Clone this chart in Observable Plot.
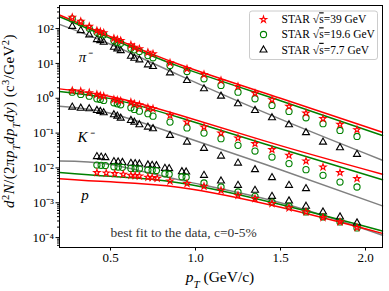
<!DOCTYPE html>
<html><head><meta charset="utf-8">
<script src="https://cdn.jsdelivr.net/npm/d3@7"></script>
<script src="https://cdn.jsdelivr.net/npm/@observablehq/plot@0.6"></script>
<style>body{margin:0;background:#fff} svg{font-family:"Liberation Serif",serif}</style>
</head><body><div id="chart"></div>
<script>
// ---- data ----
const mesonPt = [0.275,0.325,0.375,0.42,0.44,0.46,0.52,0.54,0.56,0.62,0.64,0.67,0.72,0.75,0.85,0.95,1.05,1.15,1.25,1.35,1.45,1.55,1.65,1.75,1.85,1.95];
const piStar39 = [211,162,116,87.8,82,75.4,52.7,48.4,45.3,34.1,29.1,26.2,20.9,18.8,10.4,7.0,4.81,3.24,2.18,1.40,0.906,0.582,0.374,0.259,0.178,0.125];
const piCircle196 = [190,146,102,78.4,70.5,66.0,45.3,40.5,37.9,27.3,24.5,21.9,16.8,14.5,8.71,5.86,3.62,2.33,1.50,0.968,0.622,0.419,0.276,0.186,0.119,0.080];
const piTri77 = [116,87.8,66.0,48.4,45.3,40.5,29.1,26.2,23.4,16.1,14.1,12.7,9.12,8.15,5.38,3.24,1.87,1.15,0.695,0.447,0.276,0.174,0.103,0.0552,0.0382,0.0245];
const kStar39 = [1.67,1.60,1.44,1.29,1.20,1.15,0.924,0.883,0.848,0.773,0.695,0.651,0.535,0.500,0.321,0.207,0.149,0.100,0.0719,0.0497,0.0334,0.0230,0.0158,0.0106,0.00733,0.00493];
const kCircle196 = [1.50,1.29,1.15,0.968,0.924,0.865,0.743,0.695,0.651,0.535,0.478,0.427,0.360,0.307,0.207,0.141,0.100,0.0692,0.0445,0.0305,0.0205,0.0133,0.00893,0.00614,0.00394,0.00284];
const kTri77 = [0.556,0.520,0.500,0.447,0.419,0.384,0.337,0.307,0.269,0.231,0.207,0.174,0.149,0.134,0.0859,0.0552,0.0365,0.0219,0.0138,0.00893,0.00527,0.00317,0.00255];
const protonPt = [0.42,0.445,0.47,0.52,0.545,0.57,0.62,0.645,0.67,0.72,0.745,0.77,0.82,0.845,0.92,0.945,1.05,1.15,1.25,1.35,1.45,1.55,1.65,1.75,1.85,1.95];
const pTri77 = [0.0212,0.0205,0.0198,0.0152,0.0148,0.0144,0.0136,0.0133,0.0130,0.0122,0.0119,0.0116,0.00975,0.00955,0.00780,0.00764,0.00614,0.00422,0.00317,0.00228,0.00153,0.00113,0.000794,0.000545,0.000392,0.000264];
const pCircle196 = [0.0121,0.0119,0.0117,0.0108,0.0106,0.0104,0.0097,0.00955,0.0094,0.0087,0.00853,0.0084,0.0068,0.0066,0.0056,0.0054,0.00369,0.00284,0.00204,0.00153,0.00105,0.000794,0.000545,0.000392,0.000282,0.000190];
const protonStarPt = [0.42,0.475,0.525,0.575,0.62,0.645,0.67,0.72,0.745,0.775,0.85,0.95,1.05,1.15,1.25,1.35,1.45,1.55,1.65,1.75,1.85,1.95];
const pStar39 = [0.00733,0.00714,0.00687,0.00656,0.00614,0.00601,0.00586,0.00538,0.00527,0.00504,0.00422,0.00355,0.00297,0.00228,0.00164,0.00132,0.000948,0.000710,0.000545,0.000377,0.000282,0.000195];
// fit curves
const fitPt = [0.2,0.5,0.91,1.5,2.1];
const piFit39 = [245,58.9,9.12,1.0,0.105];
const piFit196 = [219,52.5,7.94,0.851,0.0851];
const piFit77 = [132,35.5,4.47,0.251,0.0166];
const kFit39 = [1.86,1.12,0.324,0.0437,0.00661];
const kFit196 = [1.57,0.977,0.275,0.0355,0.00457];
const kFit77 = [0.589,0.372,0.0851,0.00891,0.000813];
const pFit39 = [0.00490,0.00398,0.00275,0.000741,0.000132];
const pFit196 = [0.00741,0.00575,0.00372,0.000891,0.000155];
const pFit77 = [0.0158,0.0126,0.00447,0.00100,0.000117];
const xTicks = [0.5,1.0,1.5,2.0];
const yMajor = [1e-4,1e-3,1e-2,1e-1,1,10,100];
const legendLabels = ["39","19.6","7.7"];
const particleLabels = ["π⁻","K⁻","p"];

// ---- build tables ----
const pts = (xs, ys) => ys.map((v,i)=>({pt: xs[i], v}));
const fit = ys => ys.map((v,i)=>({pt: fitPt[i], v}));
const stars = [...pts(mesonPt, piStar39), ...pts(mesonPt, kStar39), ...pts(protonStarPt, pStar39)];
const circles = [...pts(mesonPt, piCircle196), ...pts(mesonPt, kCircle196), ...pts(protonPt, pCircle196)];
const tris = [...pts(mesonPt, piTri77), ...pts(mesonPt, kTri77), ...pts(protonPt, pTri77)];
const yMinor = [];
for (let e=-5;e<=2;e++) for (let m=2;m<=9;m++){const v=m*10**e; if(v>5.2e-5&&v<460) yMinor.push(v);}
const sup = {"-":"⁻","0":"⁰","1":"¹","2":"²","3":"³","4":"⁴"};
const fmtY = d => "10" + String(Math.round(Math.log10(d))).split("").map(c=>sup[c]).join("");

const RED="#ff0000", GREEN="#008000", GREY="#808080";
const R_STAR=2.0, R_CIRC=3.1, R_TRI=2.6;
const lineOpts = (stroke)=>({x:"pt", y:"v", stroke, strokeWidth:1.5, curve:"natural"});

const chart = Plot.plot({
  width: 389, height: 291,
  marginLeft: 59, marginRight: 7, marginTop: 5, marginBottom: 44,
  style: {fontFamily: "Liberation Serif, serif", background: "#fff", color: "#000"},
  x: {domain: [0.2, 2.1]},
  y: {type: "log", domain: [5.2e-5, 460]},
  marks: [
    Plot.axisY(yMinor, {tickSize: 2, tickFormat: () => "", label: null}),
    Plot.axisY(yMajor, {tickSize: 3.5, tickFormat: fmtY, tickPadding: 2, fontSize: 13, label: null}),
    Plot.axisX(xTicks, {tickSize: 3.5, tickFormat: d => d.toFixed(1), tickPadding: 2, fontSize: 13, label: null}),
    Plot.line(fit(piFit77), lineOpts(GREY)),
    Plot.line(fit(kFit77), lineOpts(GREY)),
    Plot.line(fit(pFit77), lineOpts(GREY)),
    Plot.line(fit(piFit196), lineOpts(GREEN)),
    Plot.line(fit(kFit196), lineOpts(GREEN)),
    Plot.line(fit(pFit196), lineOpts(GREEN)),
    Plot.line(fit(piFit39), lineOpts(RED)),
    Plot.line(fit(kFit39), lineOpts(RED)),
    Plot.line(fit(pFit39), lineOpts(RED)),
    Plot.dot(tris, {x:"pt", y:"v", symbol:"triangle", r:R_TRI, stroke:"black", fill:"none", strokeWidth:1.1}),
    Plot.dot(circles, {x:"pt", y:"v", symbol:"circle", r:R_CIRC, stroke:GREEN, fill:"none", strokeWidth:1.1}),
    Plot.dot(stars, {x:"pt", y:"v", symbol:"star", r:R_STAR, stroke:RED, fill:"none", strokeWidth:1.1}),
    Plot.text(particleLabels, {x: [0.35,0.35,0.35], y: [14.8,0.076,0.00164], text: d=>d, fontSize: 15, fontStyle: "italic"}),
    Plot.text(["best fit to the data, c=0-5%"], {x: [0.93], y: [1.35e-4], text: d=>d, fontSize: 13.5, fill: "#333"}),
    Plot.frame({stroke: "black", strokeWidth: 1})
  ]
});
document.getElementById("chart").appendChild(chart);

// ---- axis titles & legend ----
const svg = d3.select(chart);
const yl = svg.append("text").attr("transform","translate(14,121) rotate(-90)")
  .attr("text-anchor","middle").attr("font-size",15).attr("letter-spacing",0.4).attr("fill","#000");
const ypart = (t, o={}) => { const s = yl.append("tspan").text(t);
  if (o.it) s.attr("font-style","italic");
  if (o.sup) s.attr("baseline-shift","super").attr("font-size",10.5);
  if (o.sub) s.attr("baseline-shift","sub").attr("font-size",10.5);
  return s; };
ypart("d",{it:1}); ypart("2",{sup:1}); ypart("N",{it:1}); ypart("/(2π"); ypart("p",{it:1}); ypart("T",{sub:1,it:1});
ypart("dp",{it:1}); ypart("T",{sub:1,it:1}); ypart("dy",{it:1}); ypart(") (c"); ypart("3",{sup:1}); ypart("/GeV"); ypart("2",{sup:1}); ypart(")");

const xl = svg.append("text").attr("x",220).attr("y",282).attr("text-anchor","middle").attr("font-size",15.5).attr("fill","#000");
xl.append("tspan").attr("font-style","italic").text("p");
xl.append("tspan").attr("font-style","italic").attr("baseline-shift","sub").attr("font-size",11).text("T");
xl.append("tspan").text(" (GeV/c)");

const lg = svg.append("g").attr("text-anchor","start");
lg.append("rect").attr("x",249.5).attr("y",11).attr("width",128).attr("height",48.5).attr("rx",2.5)
  .attr("fill","white").attr("fill-opacity",0.8).attr("stroke","#cccccc").attr("stroke-width",1);
const legSyms = [[d3.symbolStar, R_STAR, RED],[d3.symbolCircle, R_CIRC, GREEN],[d3.symbolTriangle, R_TRI, "black"]];
const rowsY = [19.5, 34.5, 50];
legendLabels.forEach((lab,i)=>{
  const [type, r, col] = legSyms[i];
  lg.append("path").attr("d", d3.symbol(type, Math.PI*r*r)()).attr("transform",`translate(263.5,${rowsY[i]})`)
    .attr("fill","none").attr("stroke",col).attr("stroke-width",1.1);
  const t = lg.append("text").attr("x",281.5).attr("y",rowsY[i]+3.8).attr("text-anchor","start").attr("font-size",11.5).attr("fill","#000");
  t.append("tspan").text("STAR √");
  t.append("tspan").attr("text-decoration","overline").text("s");
  t.append("tspan").text("=" + lab + " GeV");
});
</script></body></html>
